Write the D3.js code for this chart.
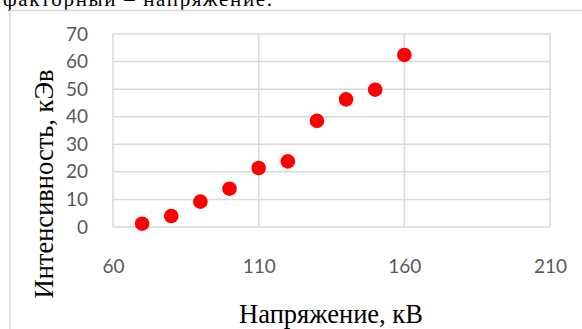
<!DOCTYPE html>
<html><head><meta charset="utf-8">
<script src="https://cdn.jsdelivr.net/npm/d3@7"></script>
<style>html,body{margin:0;padding:0;background:#fff;overflow:hidden}</style>
</head><body>
<svg id="c" width="582" height="329"></svg>
<script>
const voltage = [70, 80, 90, 100, 110, 120, 130, 140, 150, 160];
const intensity = [1.2, 4.0, 9.2, 13.9, 21.4, 23.8, 38.5, 46.3, 49.8, 62.4];
const xTicks = [60, 110, 160, 210];
const yTicks = [0, 10, 20, 30, 40, 50, 60, 70];
const xTitle = "Напряжение, кВ";
const yTitle = "Интенсивность, кЭв";
const caption = "факторный – напряжение.";

const svg = d3.select("#c");
const L = 113, R = 550, T = 34, B = 227;
const x = d3.scaleLinear().domain([60, 210]).range([L, R]);
const y = d3.scaleLinear().domain([0, 70]).range([B, T]);
const grid = "#d9d9d9", tickCol = "#595959";
const serif = "'Liberation Serif', 'Times New Roman', serif";

// caption (cut off at top, as in the source)
svg.append("text").attr("x", 3).attr("y", 6)
  .attr("font-family", serif).attr("font-size", 21)
  .attr("textLength", 269).attr("lengthAdjust", "spacing")
  .attr("fill", "#000").text(caption);

// outer chart border
svg.append("rect").attr("x", 10).attr("y", 10.5).attr("width", 580).attr("height", 340)
  .attr("fill", "none").attr("stroke", grid).attr("stroke-width", 1.5);

// gridlines
const g = svg.append("g");
g.selectAll(".hy").data(yTicks).join("line")
  .attr("x1", L).attr("x2", R).attr("y1", d => y(d)).attr("y2", d => y(d))
  .attr("stroke", grid).attr("stroke-width", 1.5);
g.selectAll(".vx").data(xTicks).join("line")
  .attr("y1", T).attr("y2", B).attr("x1", d => x(d)).attr("x2", d => x(d))
  .attr("stroke", grid).attr("stroke-width", 1.5);

// axes labels via d3 axes
const yAxis = svg.append("g").attr("transform", `translate(${L},0)`)
  .call(d3.axisLeft(y).tickValues(yTicks).tickSize(0).tickPadding(25));
const xAxis = svg.append("g").attr("transform", `translate(0,${B})`)
  .call(d3.axisBottom(x).tickValues(xTicks).tickSize(0).tickPadding(33));
[yAxis, xAxis].forEach(a => {
  a.select(".domain").remove();
  a.selectAll("text").attr("font-family", "Lato").attr("font-size", 19).attr("fill", tickCol);
});

// points
svg.append("g").selectAll("circle").data(voltage).join("circle")
  .attr("cx", d => x(d)).attr("cy", (d, i) => y(intensity[i])).attr("r", 7.3)
  .attr("fill", "#ff0000");

// titles
svg.append("text").attr("x", 331).attr("y", 323).attr("text-anchor", "middle")
  .attr("font-family", serif).attr("font-size", 26.5).attr("fill", "#000").text(xTitle);
svg.append("text").attr("transform", "translate(53,184) rotate(-90)").attr("text-anchor", "middle")
  .attr("font-family", serif).attr("font-size", 26.5).attr("fill", "#000").text(yTitle);
</script>
</body></html>
